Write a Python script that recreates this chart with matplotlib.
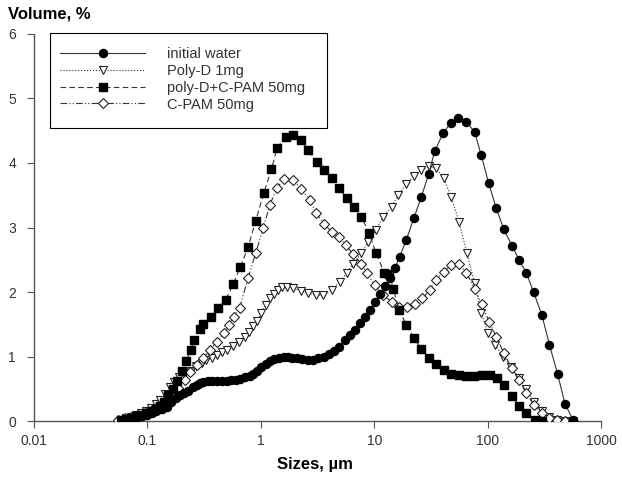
import matplotlib
matplotlib.use("Agg")
import matplotlib.pyplot as plt
from matplotlib.patches import Rectangle

plt.rcParams['font.family'] = ['Liberation Sans', 'DejaVu Sans']

# initial water
water_x = [0.06, 0.07, 0.08, 0.09, 0.1, 0.11, 0.12, 0.135, 0.148, 0.163, 0.18, 0.193, 0.21, 0.229,
           0.25, 0.271, 0.29, 0.31, 0.34, 0.37, 0.41, 0.45, 0.5, 0.55, 0.6, 0.65, 0.72, 0.8, 0.86,
           0.93, 1.01, 1.1, 1.2, 1.3, 1.45, 1.6, 1.75, 1.9, 2.1, 2.3, 2.6, 2.9, 3.2, 3.6, 4.0, 4.4,
           4.9, 5.5, 6.1, 6.7, 7.5, 8.3, 9.2, 10.2, 11.3, 12.5, 13.8, 15.2, 16.8, 19.2, 22.3, 26.1,
           30.2, 34.1, 40.4, 47.2, 54.7, 64.9, 76.7, 87.9, 102, 119, 139, 164, 189, 219, 254, 301,
           351, 414, 480, 565]
water_y = [0.01, 0.03, 0.05, 0.08, 0.1, 0.13, 0.15, 0.18, 0.22, 0.3, 0.35, 0.4, 0.43, 0.47,
           0.52, 0.56, 0.59, 0.61, 0.62, 0.62, 0.62, 0.62, 0.62, 0.63, 0.64, 0.65, 0.68, 0.7, 0.73,
           0.78, 0.84, 0.89, 0.93, 0.96, 0.98, 0.99, 0.99, 0.98, 0.97, 0.96, 0.95, 0.95, 0.97, 1.0,
           1.04, 1.09, 1.15, 1.26, 1.33, 1.41, 1.52, 1.62, 1.72, 1.84, 1.97, 2.1, 2.22, 2.37, 2.55,
           2.81, 3.14, 3.48, 3.83, 4.18, 4.46, 4.62, 4.69, 4.64, 4.48, 4.12, 3.69, 3.30, 2.97, 2.72,
           2.50, 2.30, 2.0, 1.64, 1.18, 0.73, 0.27, 0.02]

# Poly-D 1mg
polyd_x = [0.058, 0.065, 0.072, 0.08, 0.088, 0.097, 0.107, 0.118, 0.13, 0.143, 0.157, 0.173, 0.19,
           0.21, 0.24, 0.27, 0.3, 0.33, 0.37, 0.41, 0.45, 0.5, 0.57, 0.64, 0.72, 0.79, 0.86, 0.93,
           1.01, 1.1, 1.2, 1.3, 1.42, 1.55, 1.7, 1.93, 2.24, 2.63, 3.06, 3.54, 4.2, 4.97, 5.7, 6.5,
           7.7, 8.8, 10.4, 12.0, 14.2, 16.2, 19.2, 22.3, 26.1, 30.4, 35.3, 41, 47.9, 55.8, 65.7,
           76.7, 87.9, 101, 117, 136, 162, 189, 219, 255, 300, 350, 410, 480, 565]
polyd_y = [0.02, 0.04, 0.06, 0.09, 0.12, 0.16, 0.2, 0.26, 0.33, 0.42, 0.52, 0.6, 0.68,
           0.74, 0.78, 0.85, 0.9, 0.94, 0.98, 1.03, 1.07, 1.1, 1.17, 1.22, 1.3, 1.38, 1.47, 1.55,
           1.68, 1.8, 1.9, 1.97, 2.03, 2.07, 2.08, 2.06, 2.02, 1.98, 1.95, 1.95, 2.03, 2.16, 2.29,
           2.44, 2.6, 2.78, 2.96, 3.17, 3.32, 3.5, 3.67, 3.8, 3.89, 3.95, 3.92, 3.76, 3.47, 3.09,
           2.6, 2.14, 1.67, 1.37, 1.18, 1.0, 0.84, 0.66, 0.5, 0.3, 0.15, 0.06, 0.02, 0.0, 0.0]

# poly-D + C-PAM 50mg
mix_x = [0.058, 0.065, 0.072, 0.08, 0.088, 0.097, 0.107, 0.118, 0.128, 0.14, 0.152, 0.168,
         0.183, 0.2, 0.22, 0.24, 0.26, 0.29, 0.31, 0.36, 0.42, 0.49, 0.57, 0.66, 0.77, 0.9,
         1.06, 1.24, 1.39, 1.66, 1.93, 2.25, 2.62, 3.1, 3.6, 4.2, 4.9, 5.7, 6.6, 7.7, 9.0, 10.4,
         12.3, 13.5, 14.7, 16.6, 19.2, 22.6, 26.1, 30.4, 35, 41, 48, 56, 65, 76, 89, 104, 121,
         140, 163, 190, 219, 260, 300]
mix_y = [0.02, 0.03, 0.05, 0.07, 0.1, 0.13, 0.16, 0.19, 0.23, 0.3, 0.4, 0.5,
         0.62, 0.78, 0.93, 1.1, 1.25, 1.42, 1.5, 1.62, 1.75, 1.88, 2.12, 2.39, 2.69, 3.1,
         3.53, 3.9, 4.23, 4.41, 4.43, 4.36, 4.2, 4.02, 3.89, 3.76, 3.62, 3.45, 3.32, 3.17, 2.91,
         2.6, 2.29, 2.28, 2.05, 1.72, 1.49, 1.28, 1.11, 0.98, 0.88, 0.79, 0.73, 0.71, 0.7, 0.7,
         0.71, 0.72, 0.66, 0.56, 0.39, 0.23, 0.12, 0.02, 0.0]

# C-PAM 50mg
cpam_x = [0.055, 0.063, 0.072, 0.083, 0.095, 0.109, 0.124, 0.142, 0.163, 0.187, 0.214, 0.237,
          0.271, 0.31, 0.356, 0.41, 0.47, 0.52, 0.58, 0.65, 0.77, 0.9, 1.05, 1.2, 1.39, 1.6,
          1.93, 2.28, 2.7, 3.06, 3.6, 4.2, 4.9, 5.6, 6.5, 7.7, 8.6, 10.1, 12.0, 14.2, 16.6, 19.3,
          22.7, 26.5, 31, 35, 41, 48, 55.8, 65, 77, 89, 103, 119, 139, 163, 190, 219, 255, 300,
          350, 410, 480, 565]
cpam_y = [0.02, 0.04, 0.06, 0.09, 0.12, 0.17, 0.23, 0.31, 0.4, 0.51, 0.64, 0.76,
          0.87, 0.97, 1.1, 1.23, 1.36, 1.49, 1.62, 1.75, 2.21, 2.6, 2.99, 3.35, 3.62, 3.75,
          3.74, 3.59, 3.43, 3.23, 3.06, 2.93, 2.86, 2.73, 2.59, 2.44, 2.29, 2.11, 1.95, 1.85, 1.77,
          1.77, 1.82, 1.9, 2.03, 2.19, 2.31, 2.42, 2.44, 2.3, 2.04, 1.81, 1.54, 1.31, 1.05, 0.82,
          0.64, 0.43, 0.25, 0.12, 0.04, 0.01, 0.0, 0.0]

labels = ["initial water", "Poly-D 1mg", "poly-D+C-PAM 50mg", "C-PAM 50mg"]
x_ticks = [0.01, 0.1, 1, 10, 100, 1000]
x_ticklabels = ["0.01", "0.1", "1", "10", "100", "1000"]
y_ticks = [0, 1, 2, 3, 4, 5, 6]

fig = plt.figure(figsize=(6.22, 4.92), dpi=100)
ax = fig.add_axes([0.0547, 0.1443, 0.9116, 0.7866])

lc = '#333333'
ms = 5.8
ax.plot(water_x, water_y, '-', color=lc, lw=0.8, marker='o', ms=ms,
        mfc='black', mec='black', label=labels[0], zorder=5)
ax.plot(polyd_x, polyd_y, ':', color=lc, lw=0.8, marker='v', ms=ms + 0.6,
        mfc='white', mec='#222222', mew=0.8, label=labels[1], zorder=3)
ax.plot(mix_x, mix_y, '--', color=lc, lw=0.8, marker='s', ms=ms - 0.4,
        mfc='black', mec='black', label=labels[2], dashes=(5, 3), zorder=4)
ax.plot(cpam_x, cpam_y, color=lc, lw=0.8, marker='D', ms=ms - 0.8,
        mfc='white', mec='#222222', mew=0.8, label=labels[3],
        dashes=(6, 2, 1, 2, 1, 2), zorder=3)

ax.set_xscale('log')
ax.set_xlim(0.01, 1000)
ax.set_ylim(0, 6)
ax.set_xticks(x_ticks)
ax.set_xticklabels(x_ticklabels)
ax.set_yticks(y_ticks)
ax.xaxis.set_minor_locator(matplotlib.ticker.NullLocator())

for s in ['top', 'right']:
    ax.spines[s].set_visible(False)
for s in ['left', 'bottom']:
    ax.spines[s].set_color('#555555')
    ax.spines[s].set_linewidth(1.0)
ax.tick_params(axis='both', direction='out', length=5, width=0.8, color='#555555',
               labelsize=10, labelcolor='#333333')
ax.tick_params(axis='x', pad=4)
ax.tick_params(axis='y', pad=8)

fig.text(0.013, 0.972, "Volume, %", fontsize=12, fontweight='bold', ha='left', va='center')
fig.text(0.507, 0.055, "Sizes, \u00b5m", fontsize=12, fontweight='bold', ha='center', va='center')

# legend frame drawn as a rectangle in axes coordinates
frame = Rectangle((0.0282, 0.757), 0.4885, 0.2455, transform=ax.transAxes,
                  fill=True, facecolor='white', edgecolor='black', lw=0.8,
                  zorder=6, clip_on=False)
ax.add_patch(frame)
leg = ax.legend(loc='upper left', bbox_to_anchor=(0.038, 0.977), frameon=False,
                fontsize=10.5, handlelength=5.85, handletextpad=1.5,
                borderpad=0.3, labelspacing=0.19, borderaxespad=0.0)
leg.set_zorder(7)
for t in leg.get_texts():
    t.set_color('#333333')

fig.savefig("out.png", dpi=100)
